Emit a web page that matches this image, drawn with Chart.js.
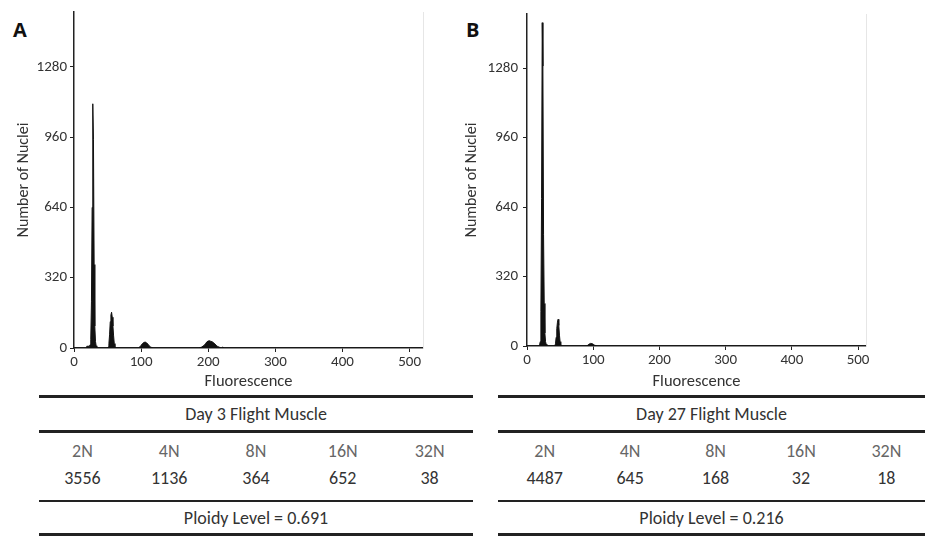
<!DOCTYPE html>
<html>
<head>
<meta charset="utf-8">
<script src="https://cdn.jsdelivr.net/npm/chart.js@4/dist/chart.umd.min.js"></script>
<style>
  html, body { margin:0; padding:0; background:#fff; }
  body { width:925px; height:536px; position:relative; overflow:hidden; font-family: Carlito, Lato, "Open Sans", sans-serif; color:#333; }
  .chartbox { position:absolute; top:0; height:392px; }
  .letter { position:absolute; font-weight:bold; font-size:20px; color:#111; font-family: "Open Sans", Lato, sans-serif; }
  .tbl { position:absolute; top:395px; }
  .rule { position:absolute; left:0; right:0; background:#222; }
  .title { position:absolute; left:0; right:0; text-align:center; font-size:18px; color:#333; line-height:20px; }
  .row { position:absolute; left:0; right:0; display:flex; font-size:18px; line-height:20px; }
  .row div { flex:1; text-align:center; }
  .hdr { color:#666; font-weight:300; }
  .val { color:#333; }
</style>
</head>
<body>
<div class="letter" style="left:13px; top:16px;">A</div>
<div class="letter" style="left:466px; top:16px;">B</div>
<div class="chartbox" style="left:0; width:440px;"><canvas id="cA"></canvas></div>
<div class="chartbox" style="left:460px; width:430px;"><canvas id="cB"></canvas></div>
<div id="tA" class="tbl" style="left:39px; width:434px; height:141px;"></div>
<div id="tB" class="tbl" style="left:498px; width:427px; height:141px;"></div>
<script>
// ---------- data ----------
const yTickValues = [0, 320, 640, 960, 1280];
const xTickValues = [0, 100, 200, 300, 400, 500];

// Panel A (Day 3) histogram: fluorescence channel and nuclei count
const fluorA = [0, 18, 19, 23, 24, 25, 26, 27, 28, 29, 30, 31, 32, 33, 34,
  50, 51, 52, 53, 54, 55, 56, 57, 58, 59, 60, 61, 62,
  96, 98, 100, 102, 104, 106, 108, 110, 112, 114, 116, 118,
  186, 190, 194, 196, 198, 200, 202, 204, 206, 208, 210, 212, 214, 216, 218, 220, 222, 223, 520];
const countA = [0, 0, 8, 8, 15, 40, 210, 640, 1112, 950, 380, 100, 30, 10, 0,
  0, 5, 20, 60, 120, 150, 163, 140, 100, 55, 20, 5, 0,
  0, 5, 12, 20, 25, 27, 24, 18, 10, 5, 2, 0,
  0, 4, 12, 20, 28, 32, 33, 30, 28, 24, 18, 12, 7, 4, 2, 0, 5, 0, 0];

// Panel B (Day 27) histogram
const fluorB = [0, 18, 19, 20, 21, 22, 23, 24, 25, 26, 27, 28, 29, 30,
  42, 43, 44, 45, 46, 47, 48, 49, 50, 51, 52,
  90, 92, 94, 96, 98, 100, 102, 104, 106, 512];
const countB = [0, 0, 5, 20, 160, 680, 1490, 1290, 515, 196, 60, 20, 8, 0,
  0, 10, 40, 80, 110, 123, 95, 50, 20, 5, 0,
  0, 4, 9, 12, 11, 8, 4, 2, 0, 0];

// Tables
const ploidyClasses = ["2N", "4N", "8N", "16N", "32N"];
const titleA = "Day 3 Flight Muscle";
const nucleiA = [3556, 1136, 364, 652, 38];
const ploidyA = "0.691";
const titleB = "Day 27 Flight Muscle";
const nucleiB = [4487, 645, 168, 32, 18];
const ploidyB = "0.216";

// ---------- charts ----------
const FONT = "Carlito, Lato, 'Open Sans', sans-serif";

function makeChart(id, xs, ys, cfg) {
  const pts = xs.map((x, i) => ({x: x, y: ys[i]}));
  return new Chart(document.getElementById(id), {
    type: 'scatter',
    data: { datasets: [{
      data: pts, showLine: true, fill: 'origin',
      borderColor: '#111', backgroundColor: '#111',
      borderWidth: 1, pointRadius: 0, tension: 0
    }]},
    options: {
      responsive: false, animation: false,
      devicePixelRatio: 1,
      layout: { padding: { top: cfg.top, right: cfg.right, left: 0, bottom: 0 } },
      plugins: { legend: { display: false }, tooltip: { enabled: false } },
      scales: {
        x: {
          type: 'linear', min: 0, max: cfg.xmax,
          afterBuildTicks: s => { s.ticks = xTickValues.map(v => ({value: v})); },
          afterFit: s => { s.height = cfg.xh; },
          grid: { display: true, drawOnChartArea: false, drawTicks: true, tickLength: 4, color: '#222' },
          border: { display: true, color: '#222', width: 1.5 },
          ticks: { color: '#333', font: { family: FONT, size: 15 }, padding: 1, maxRotation: 0, callback: v => String(v) },
          title: { display: true, text: 'Fluorescence', color: '#333', font: { family: FONT, size: 16.5 }, padding: { top: cfg.xtp, bottom: 0 } }
        },
        y: {
          type: 'linear', min: 0, max: 1530,
          afterBuildTicks: s => { s.ticks = yTickValues.map(v => ({value: v})); },
          afterFit: s => { s.width = cfg.yw; },
          grid: { display: true, drawOnChartArea: false, drawTicks: true, tickLength: 4, color: '#222' },
          border: { display: true, color: '#222', width: 1.5 },
          ticks: { color: '#333', font: { family: FONT, size: 15 }, padding: cfg.ypad, callback: v => String(v) },
          title: { display: true, text: 'Number of Nuclei', color: '#333', font: { family: FONT, size: 16 }, padding: { top: cfg.ytp, bottom: 0 } }
        },
        yr: {
          type: 'linear', position: 'right', min: 0, max: 1530,
          afterFit: s => { s.width = 0; },
          grid: { display: false },
          ticks: { display: false },
          border: { display: true, color: '#e6e6e6', width: 1, dash: [2, 2] }
        }
      }
    }
  });
}

function sizeCanvas(id, w, h) {
  const c = document.getElementById(id);
  c.width = w; c.height = h;
  c.style.width = w + 'px'; c.style.height = h + 'px';
}
sizeCanvas('cA', 440, 392);
sizeCanvas('cB', 430, 392);

makeChart('cA', fluorA, countA, { top: 11, right: 17, xmax: 520, xh: 44, yw: 74, xtp: 2, ytp: 14, ypad: 3 });
makeChart('cB', fluorB, countB, { top: 12, right: 24, xmax: 512, xh: 46, yw: 67, xtp: 4, ytp: 2, ypad: 5 });

// ---------- tables ----------
function buildTable(el, title, values, ploidy, shift) {
  const rules = [[0, 3], [35, 2.5], [105, 1.6], [138, 2.5]];
  rules.forEach(r => {
    const d = document.createElement('div');
    d.className = 'rule';
    d.style.top = r[0] + 'px';
    d.style.height = r[1] + 'px';
    el.appendChild(d);
  });
  const t = document.createElement('div');
  t.className = 'title'; t.style.top = '9px'; t.textContent = title;
  el.appendChild(t);
  const h = document.createElement('div');
  h.className = 'row hdr'; h.style.top = '46px';
  h.style.left = shift + 'px'; h.style.right = (-shift) + 'px';
  ploidyClasses.forEach(c => { const d = document.createElement('div'); d.textContent = c; h.appendChild(d); });
  el.appendChild(h);
  const v = document.createElement('div');
  v.className = 'row val'; v.style.top = '73px';
  v.style.left = shift + 'px'; v.style.right = (-shift) + 'px';
  values.forEach(c => { const d = document.createElement('div'); d.textContent = c; v.appendChild(d); });
  el.appendChild(v);
  const p = document.createElement('div');
  p.className = 'title'; p.style.top = '113px'; p.textContent = 'Ploidy Level = ' + ploidy;
  el.appendChild(p);
}
buildTable(document.getElementById('tA'), titleA, nucleiA, ploidyA, 0);
buildTable(document.getElementById('tB'), titleB, nucleiB, ploidyB, 4);
</script>
</body>
</html>
